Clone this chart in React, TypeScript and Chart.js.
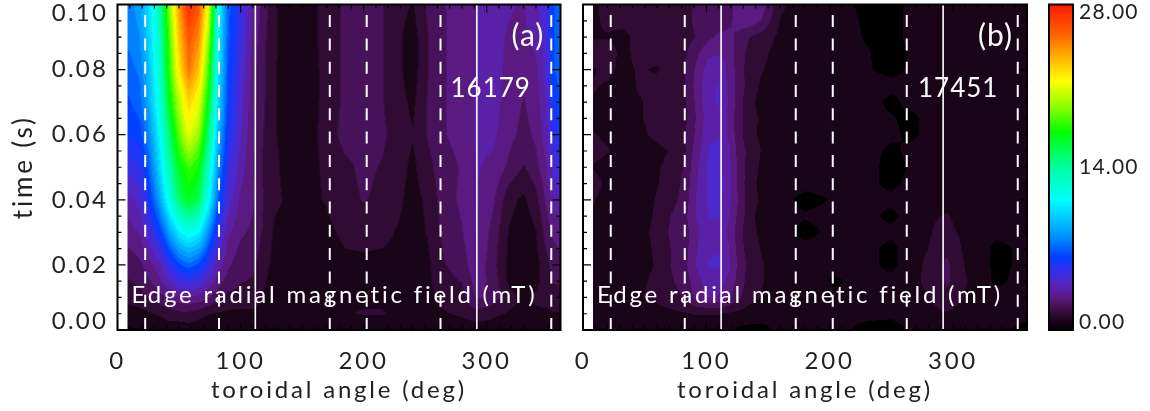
import React, { useEffect, useRef } from "react";
import { Chart, registerables } from "chart.js";

Chart.register(...registerables);

const FONT = "Lato";
const SENSOR_DASHED = [22.5, 82.5, 172.5, 202.5, 262.5, 352.5];
const SENSOR_SOLID = [112, 292];
const X_LABEL = "toroidal angle (deg)";
const Y_LABEL = "time (s)";
const FIELD_NOTE = "Edge radial magnetic field (mT)";

const cmapValues = [0, 0.7, 1.4, 2.1, 2.8, 3.5, 4.3, 5.3, 6.3, 8, 9.6, 11.2, 14, 17, 19, 21.4, 23.5, 25.5, 28];
const cmapColors = ["#000000", "#1a0418", "#300c34", "#47125a", "#5a1a82", "#5a20a8", "#4a28d0", "#2a30f0", "#0040ff", "#0090ff", "#00c8ff", "#00ffff", "#00ff9f", "#00ff00", "#80ff00", "#ffff00", "#ffb000", "#ff6000", "#ff1800"];
const colorbarTicks = [0, 14, 28];

const timesA = [0, 0.005, 0.01, 0.015, 0.02, 0.03, 0.04, 0.05, 0.06, 0.07, 0.08, 0.09, 0.1];
const anglesA = [8, 18, 26, 34, 42, 50, 58, 66, 74, 82, 90, 100, 110, 118, 128, 140, 155, 170, 185, 200, 215, 228, 240, 252, 265, 280, 292, 305, 318, 330, 340, 348, 354, 360];
const fieldA = [
  [0.3,0.3,0.7,0.3,0.7,0.5,0.7,0.5,0.3,0.6,0.3,0.5,0.6,0.5,0.3,0.4,0.5,0.6,0.7,0.5,0.7,0.6,0.3,0.5,0.3,0.6,0.7,0.7,0.6,0.5,0.6,0.6,0.5,0.5],
  [0.7,0.8,1,1.2,1.4,1.6,1.6,1.4,1.1,1,0.9,0.9,0.9,0.8,0.8,0.7,0.6,0.9,1,1.1,1.1,0.9,0.8,0.9,1,1.2,1.5,1.2,1,0.9,0.9,0.9,1,1],
  [1.3,1.5,1.8,2.2,2.6,3,3.1,3,2.5,2,1.6,1.5,1.5,1,0.7,0.6,0.6,0.8,0.9,0.9,0.9,0.7,0.6,0.9,1.2,1.5,2.6,2.2,1.3,0.9,1.2,1.4,1.5,1.5],
  [1.7,1.9,2.4,3,3.9,4.7,5,4.6,3.7,2.8,2.1,1.8,1.7,1.2,0.7,0.6,0.6,0.7,0.8,0.9,0.8,0.8,0.6,0.9,1.5,1.8,2.8,2.2,0.9,0.6,0.8,1.5,1.8,1.9],
  [2,2.3,2.9,3.6,5,6.5,7.2,6.5,5,3.5,2.6,2,1.9,1.4,0.8,0.7,0.6,0.7,0.9,0.9,0.9,0.9,0.6,0.9,1.7,2.1,3,2,0.9,0.6,0.8,1.5,2,2.2],
  [2.8,3.2,4.5,6,8.5,10.8,11.8,11,8,5,3.3,2.6,2.3,1.7,0.9,0.8,0.8,0.9,1.2,1.3,1.2,1,0.7,1.1,1.9,2.4,3.2,2.2,1,0.6,1,2,2.6,2.8],
  [3.5,4.2,6,8.5,12,15,16.5,15.5,11.5,6.8,4.3,3,2.6,1.8,1.2,0.9,0.9,1.1,1.5,1.8,1.6,1.2,0.8,1.2,2.1,2.6,3.2,2.6,1.3,0.9,1.5,2.5,3.4,3.8],
  [4.8,5.2,7,10,13.5,16.5,18,17,13,8,5,3.5,2.5,1.7,1.2,0.7,0.8,1.2,1.6,1.9,1.7,1.3,0.9,1.5,2.2,2.5,3.2,3,2.3,1.7,2.2,3,4.2,5],
  [6,6.3,8,11,15,18.5,21,19.5,15,9,5.8,3.9,2.6,1.8,1.1,0.7,0.7,1.4,2,2,1.9,1.4,1.1,1.8,2.4,2.7,3.3,3.3,2.7,2.2,2.6,3.5,5,5.8],
  [6.5,7,9,12,16.5,20,22.5,21,16.5,10,6.2,4.2,2.7,1.9,1.1,0.7,0.7,1.3,1.9,1.9,1.8,1.3,0.9,1.8,2.4,2.7,3.3,3.4,2.9,2.4,2.8,3.7,5.8,6.5],
  [7,7.5,9.5,12.5,17.5,22,25,23,18,10.5,6.5,4.5,2.8,1.9,1.1,0.7,0.7,1.3,1.9,1.9,1.8,1.2,0.7,1.7,2.4,2.7,3.2,3.4,3,2.6,3,4,6.5,7.3],
  [7.5,8,10,13,18,23,26,24.5,19.5,11,6.8,4.8,3,2,1.1,0.8,0.8,1.3,1.9,1.9,1.8,1.2,0.7,1.7,2.4,2.7,3.2,3.3,3.1,3,3.4,4.3,6.5,7.5],
  [7.5,8.5,10.5,13.5,19,24,27.5,26,21,11.5,7,5,3.2,2.2,1.1,0.8,0.8,1.3,1.9,1.9,1.8,1.3,1,1.9,2.4,2.8,3.2,3.3,3.2,3.1,3.6,4.5,6.5,7.5],
];

const timesB = [0, 0.005, 0.01, 0.015, 0.02, 0.025, 0.03, 0.035, 0.04, 0.045, 0.05, 0.055, 0.06, 0.065, 0.07, 0.075, 0.08, 0.085, 0.09, 0.095, 0.1];
const anglesB = [8, 20, 32, 45, 60, 72, 82, 92, 102, 110, 118, 126, 134, 145, 160, 180, 205, 230, 250, 265, 285, 295, 310, 335, 360];
const fieldB = [
  [0.4,0.4,0.5,0.5,0.6,0.5,0.6,0.7,0.6,0.6,0.5,0.2,0.2,0.2,0.5,0.6,0.5,0.2,0.1,0.4,0.6,0.7,0.5,0.6,0.1],
  [0.8,0.7,0.7,0.8,0.8,0.9,1,1.1,1.1,1.1,1,0.9,0.7,0.6,0.5,0.4,0.5,0.5,0.5,0.6,0.9,1,0.8,0.7,0.6],
  [0.8,0.8,0.9,1,1.2,1.5,1.8,2.7,3.2,3.1,2.6,1.9,1.4,1,0.7,0.5,0.4,0.5,0.5,0.6,1.2,1.5,1,0.6,0.5],
  [0.8,0.7,0.7,0.9,1.2,1.7,2,2.9,3.5,3.5,3,2.2,1.5,1.1,0.7,0.5,0.3,0.5,0.5,0.7,1.5,1.9,1.1,0.2,0.6],
  [0.8,0.7,0.7,0.8,1.1,1.8,2.2,3.2,3.9,4,3.3,2.3,1.6,1.1,0.7,0.4,0.5,0.5,0.2,0.6,1.5,1.9,1,0.2,0.5],
  [0.9,0.7,0.7,0.7,1.2,1.8,2.1,3.1,3.7,3.8,3.2,2.2,1.4,1,0.6,0.5,0.5,0.5,0.2,0.6,1.2,1.6,0.9,0.2,0.5],
  [0.9,0.7,0.6,0.7,1.3,1.9,2.1,3,3.6,3.7,3,2.1,1.3,0.9,0.5,0.2,0.5,0.5,0.5,0.6,1.1,1.2,0.9,0.5,0.5],
  [1,0.7,0.6,0.6,1.2,1.8,2.2,3.2,3.9,3.9,3.2,2.3,1.4,0.7,0.5,0.4,0.5,0.5,0.2,0.6,1,1.1,0.8,0.5,0.5],
  [1.1,0.8,0.6,0.7,1.1,1.5,2,3.2,4,4.1,3.4,2.4,1.5,0.9,0.5,0.2,0.4,0.5,0.5,0.6,0.7,0.8,0.6,0.6,0.5],
  [1.3,0.9,0.7,0.7,1,1.4,1.9,3.1,4,4.1,3.5,2.3,1.4,0.8,0.6,0.5,0.5,0.5,0.2,0.5,0.6,0.6,0.6,0.6,0.6],
  [1,0.8,0.7,0.8,1,1.2,1.8,3,4,4.1,3.4,2.3,1.5,0.9,0.5,0.6,0.6,0.6,0.1,0.4,0.6,0.6,0.6,0.6,0.6],
  [1.3,1.1,0.7,0.8,0.9,1.1,1.6,2.8,3.9,4,3.3,2.2,1.6,1,0.6,0.4,0.6,0.6,0.2,0.5,0.6,0.6,0.6,0.6,0.6],
  [1.1,0.9,0.8,0.9,1.2,1.4,1.7,2.6,3.7,3.8,3,2.1,1.3,0.9,0.6,0.5,0.6,0.6,0.5,0.2,0.6,0.6,0.6,0.6,0.6],
  [0.9,0.8,0.8,1,1.2,1.3,1.5,2.5,3.6,3.8,3,2,1.4,0.9,0.6,0.5,0.6,0.6,0.4,0.2,0.6,0.6,0.6,0.6,0.6],
  [1,0.9,0.8,1,1.2,1.3,1.6,2.6,3.7,3.9,3.1,2.1,1.3,0.8,0.6,0.5,0.6,0.6,0.2,0.5,0.6,0.6,0.6,0.6,0.6],
  [1.1,1,0.8,1.1,1.2,1.3,1.7,2.7,3.7,3.9,3,2.2,1.5,0.9,0.6,0.5,0.6,0.6,0.5,0.5,0.6,0.6,0.6,0.6,0.6],
  [1,1.2,0.9,1.1,1,1.3,1.6,2.6,3.5,3.6,3,2.1,1.5,1.1,0.7,0.5,0.5,0.4,0.2,0.4,0.6,0.6,0.6,0.6,0.6],
  [1.4,1.3,0.9,1.2,1.2,1.3,1.6,2.3,3,3.1,2.9,2.1,1.6,1.2,0.8,0.4,0.5,0.4,0.1,0.4,0.6,0.5,0.5,0.4,0.5],
  [1,1,0.9,1.2,1.2,1.3,1.4,1.8,2.3,2.6,2.6,2.3,1.8,1.4,0.9,0.5,0.6,0.3,0.1,0.5,0.6,0.6,0.5,0.6,0.5],
  [0.9,1.2,1.2,1.3,1.3,1.4,1.5,1.9,2,2,2.3,2.7,2.9,2.4,1,0.6,0.5,0.3,0.1,0.5,0.6,0.6,0.5,0.6,0.6],
  [0.9,1.3,1.4,1.4,1.4,1.4,1.5,1.9,1.9,1.7,2.1,2.8,3.2,2.8,1.2,0.6,0.6,0.2,0.1,0.5,0.6,0.6,0.6,0.7,0.6],
];

const BAND = 0.7;

function hexRgb(h: string) {
  return [1, 3, 5].map((i) => parseInt(h.slice(i, i + 2), 16));
}
function colorAt(v: number) {
  const n = cmapValues.length;
  if (v <= cmapValues[0]) return hexRgb(cmapColors[0]);
  for (let i = 1; i < n; i++) {
    if (v <= cmapValues[i]) {
      const f = (v - cmapValues[i - 1]) / (cmapValues[i] - cmapValues[i - 1]);
      const a = hexRgb(cmapColors[i - 1]);
      const b = hexRgb(cmapColors[i]);
      return a.map((c, k) => c + (b[k] - c) * f);
    }
  }
  return hexRgb(cmapColors[n - 1]);
}
function bracket(arr: number[], v: number) {
  let i = 0;
  while (i < arr.length - 2 && v > arr[i + 1]) i++;
  const f = (v - arr[i]) / (arr[i + 1] - arr[i]);
  return [i, Math.max(0, Math.min(1, f))];
}

const heatPlugin = {
  id: "heat",
  beforeDatasetsDraw(chart: any, _a: any, o: any) {
    if (!o.grid) return;
    const { left, top, width, height } = chart.chartArea;
    const xs = chart.scales.x;
    const ys = chart.scales.y;
    const w = Math.round(width);
    const h = Math.round(height);
    const off = document.createElement("canvas");
    off.width = w;
    off.height = h;
    const octx = off.getContext("2d")!;
    const img = octx.createImageData(w, h);
    for (let r = 0; r < h; r++) {
      const t = ys.getValueForPixel(top + r + 0.5);
      const [ti, tf] = bracket(o.times, t);
      for (let c = 0; c < w; c++) {
        const ang = xs.getValueForPixel(left + c + 0.5);
        if (ang < o.angles[0]) continue;
        const [ai, af] = bracket(o.angles, ang);
        const g = o.grid;
        const v =
          g[ti][ai] * (1 - af) * (1 - tf) +
          g[ti][ai + 1] * af * (1 - tf) +
          g[ti + 1][ai] * (1 - af) * tf +
          g[ti + 1][ai + 1] * af * tf;
        const rgb = colorAt(Math.round(v / BAND) * BAND);
        const p = (r * w + c) * 4;
        img.data[p] = rgb[0];
        img.data[p + 1] = rgb[1];
        img.data[p + 2] = rgb[2];
        img.data[p + 3] = 255;
      }
    }
    octx.putImageData(img, 0, 0);
    chart.ctx.drawImage(off, left, top, width, height);
  },
};

const frameTicksPlugin = {
  id: "frameTicks",
  beforeDraw(chart: any) {
    chart.ctx.letterSpacing = "2.8px";
  },
  afterDatasetsDraw(chart: any, _a: any, o: any) {
    const ctx = chart.ctx;
    const { left, right, top, bottom } = chart.chartArea;
    const xs = chart.scales.x;
    const ys = chart.scales.y;
    ctx.save();
    ctx.fillStyle = "#ffffff";
    ctx.textBaseline = "alphabetic";
    ctx.textAlign = "left";
    for (const n of o.notes || []) {
      ctx.font = `${o.noteWeight} ${n.size || o.noteSize}px ${FONT}`;
      ctx.letterSpacing = n.spacing || o.noteSpacing;
      ctx.fillText(n.text, left + n.dx, n.y);
    }
    ctx.restore();
    ctx.save();
    ctx.strokeStyle = "#000000";
    ctx.lineWidth = 2;
    ctx.strokeRect(left, top, right - left, bottom - top);
    if (o.ticks) {
      ctx.beginPath();
      for (let v = 0; v <= 0.1001; v += 0.005) {
        const p = ys.getPixelForValue(v);
        const major = Math.abs(v / 0.02 - Math.round(v / 0.02)) < 1e-6;
        const l = major ? 8 : 4;
        ctx.moveTo(left, p); ctx.lineTo(left + l, p);
        ctx.moveTo(right, p); ctx.lineTo(right - l, p);
      }
      for (let v = 0; v <= 360; v += 10) {
        const p = xs.getPixelForValue(v);
        const l = v % 100 === 0 ? 8 : 4;
        ctx.moveTo(p, top); ctx.lineTo(p, top + l);
        ctx.moveTo(p, bottom); ctx.lineTo(p, bottom - l);
      }
      ctx.lineWidth = 1.2;
      ctx.stroke();
    }
    ctx.restore();
    if (o.yLabels) {
      ctx.save();
      ctx.fillStyle = "#222222";
      ctx.font = `${o.labelWeight} ${o.labelSize}px ${FONT}`;
      ctx.letterSpacing = o.labelSpacing;
      ctx.textAlign = o.labelAlign;
      ctx.textBaseline = "middle";
      for (const t of ys.ticks) {
        const p = ys.getPixelForValue(t.value);
        const y = Math.min(Math.max(p, top + o.labelInset), bottom - o.labelInset);
        ctx.fillText(o.format(t.value), o.labelX, y);
      }
      ctx.restore();
    }
  },
};

const colorbarPlugin = {
  id: "colorbarFill",
  beforeDatasetsDraw(chart: any, _a: any, o: any) {
    if (!o.on) return;
    const { left, top, right, bottom } = chart.chartArea;
    const ys = chart.scales.y;
    for (let p = Math.floor(top); p < bottom; p++) {
      const rgb = colorAt(ys.getValueForPixel(p + 0.5));
      chart.ctx.fillStyle = `rgb(${rgb[0]},${rgb[1]},${rgb[2]})`;
      chart.ctx.fillRect(left, p, right - left, 1);
    }
  },
};

function sensorLines() {
  const mk = (a: number, dash: number[], w: number) => ({
    data: [{ x: a, y: 0 }, { x: a, y: 0.1 }],
    showLine: true,
    pointRadius: 0,
    borderColor: "#ffffff",
    borderWidth: w,
    borderDash: dash,
  });
  return [
    ...SENSOR_DASHED.map((a) => mk(a, [12, 11.3], 2)),
    ...SENSOR_SOLID.map((a) => mk(a, [], 1.6)),
  ];
}

function panelConfig(opt: any) {
  return {
    type: "scatter",
    data: { datasets: sensorLines() },
    plugins: [heatPlugin, frameTicksPlugin],
    options: {
      responsive: false,
      animation: false,
      events: [],
      layout: { autoPadding: false, padding: { left: 0, top: 4.5, right: opt.padRight, bottom: 0 } },
      plugins: {
        legend: { display: false },
        tooltip: { enabled: false },
        title: { display: false },
        heat: { times: opt.times, angles: opt.angles, grid: opt.grid },
        frameTicks: {
          ticks: true,
          notes: opt.notes,
          noteWeight: 400,
          noteSize: 24,
          noteSpacing: "2.8px",
          yLabels: opt.yLabels,
          labelWeight: 400,
          labelSize: 24,
          labelSpacing: "2.2px",
          labelAlign: "right",
          labelX: 108,
          labelInset: 9,
          format: (v: number) => v.toFixed(2),
        },
      },
      scales: {
        x: {
          type: "linear",
          min: 0,
          max: 360,
          grid: { display: false, drawTicks: false },
          border: { display: false },
          afterFit: (s: any) => { s.height = 81; },
          ticks: { stepSize: 100, includeBounds: false, maxRotation: 0, autoSkip: false, color: "#222222", font: { family: FONT, size: 24, weight: "400" }, padding: 17 },
          title: { display: true, text: X_LABEL, color: "#222222", font: { family: FONT, size: 24, weight: "400" }, padding: { top: 0, bottom: 6 } },
        },
        y: {
          type: "linear",
          min: 0,
          max: 0.1,
          grid: { display: false, drawTicks: false },
          border: { display: false },
          afterFit: (s: any) => { s.width = opt.axisWidth; },
          ticks: { stepSize: 0.02, includeBounds: false, display: false },
          title: { display: opt.yLabels, text: Y_LABEL, color: "#222222", font: { family: FONT, size: 26, weight: "400" }, padding: { top: 8, bottom: 0 } },
        },
      },
    },
  };
}

function colorbarConfig() {
  return {
    type: "scatter",
    data: { datasets: [] },
    plugins: [colorbarPlugin, frameTicksPlugin],
    options: {
      responsive: false,
      animation: false,
      events: [],
      layout: { autoPadding: false, padding: { left: 0, top: 4.5, right: 77, bottom: 0 } },
      plugins: {
        legend: { display: false },
        tooltip: { enabled: false },
        colorbarFill: { on: true },
        frameTicks: {
          ticks: false,
          notes: [],
          noteWeight: 400,
          noteSize: 20,
          noteSpacing: "0px",
          yLabels: true,
          labelWeight: 400,
          labelSize: 21,
          labelSpacing: "1.2px",
          labelAlign: "left",
          labelX: 44,
          labelInset: 8,
          format: (v: number) => v.toFixed(2),
        },
      },
      scales: {
        x: {
          type: "linear",
          min: 0,
          max: 1,
          grid: { display: false, drawTicks: false },
          border: { display: false },
          afterFit: (s: any) => { s.height = 81; },
          ticks: { display: false },
        },
        y: {
          type: "linear",
          min: colorbarTicks[0],
          max: colorbarTicks[2],
          grid: { display: false, drawTicks: false },
          border: { display: false },
          afterFit: (s: any) => { s.width = 14; },
          ticks: { stepSize: colorbarTicks[1], display: false },
        },
      },
    },
  };
}

const canvasStyle = (left: number, width: number): React.CSSProperties => ({
  position: "absolute",
  left,
  top: 0,
  width,
  height: 411,
  display: "block",
});

export default function App() {
  const a = useRef<HTMLCanvasElement>(null);
  const b = useRef<HTMLCanvasElement>(null);
  const c = useRef<HTMLCanvasElement>(null);
  useEffect(() => {
    const charts = [
      new Chart(a.current!, panelConfig({
        padRight: 4.5, axisWidth: 117.5, yLabels: true, times: timesA, angles: anglesA, grid: fieldA,
        notes: [
          { text: "(a)", dx: 394, y: 46, size: 30, spacing: "1px" },
          { text: "16179", dx: 333, y: 97, size: 26, spacing: "1px" },
          { text: FIELD_NOTE, dx: 14, y: 303 },
        ],
      }) as any),
      new Chart(b.current!, panelConfig({
        padRight: 8, axisWidth: 48, yLabels: false, times: timesB, angles: anglesB, grid: fieldB,
        notes: [
          { text: "(b)", dx: 395, y: 46, size: 30, spacing: "1px" },
          { text: "17451", dx: 335, y: 97, size: 26, spacing: "1px" },
          { text: FIELD_NOTE, dx: 14, y: 303 },
        ],
      }) as any),
      new Chart(c.current!, colorbarConfig() as any),
    ];
    return () => charts.forEach((ch) => ch.destroy());
  }, []);
  return (
    <div style={{ position: "fixed", left: 0, top: 0, width: 1150, height: 411, background: "#fff" }}>
      <canvas ref={a} width={565} height={411} style={canvasStyle(0, 565)} />
      <canvas ref={b} width={500} height={411} style={canvasStyle(535, 500)} />
      <canvas ref={c} width={115} height={411} style={canvasStyle(1035, 115)} />
    </div>
  );
}
